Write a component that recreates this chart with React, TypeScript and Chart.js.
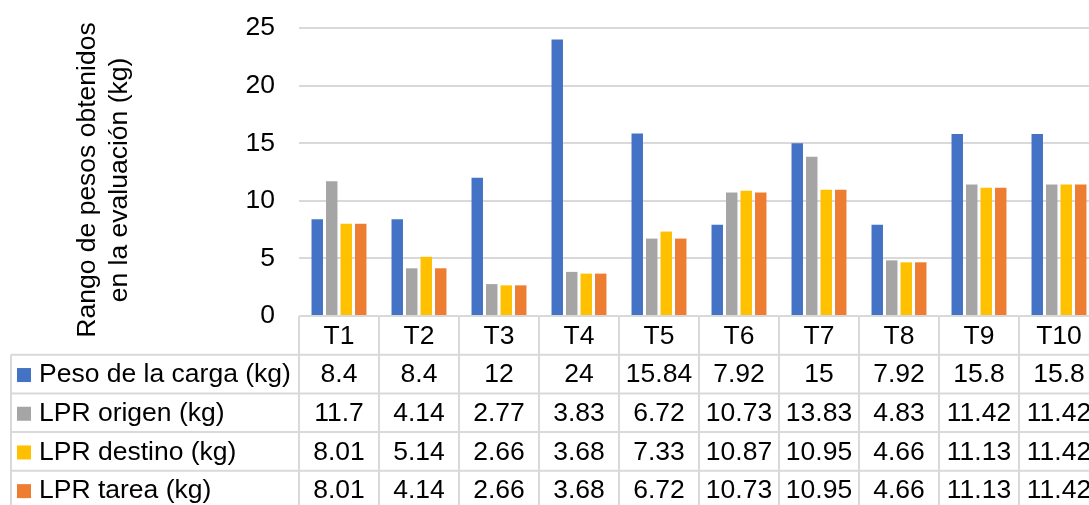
import React, { useEffect, useRef } from "react";
import { Chart, registerables } from "chart.js";

Chart.register(...registerables);

const categories = ["T1", "T2", "T3", "T4", "T5", "T6", "T7", "T8", "T9", "T10"];
const pesoCarga = [8.4, 8.4, 12, 24, 15.84, 7.92, 15, 7.92, 15.8, 15.8];
const lprOrigen = [11.7, 4.14, 2.77, 3.83, 6.72, 10.73, 13.83, 4.83, 11.42, 11.42];
const lprDestino = [8.01, 5.14, 2.66, 3.68, 7.33, 10.87, 10.95, 4.66, 11.13, 11.42];
const lprTarea = [8.01, 4.14, 2.66, 3.68, 6.72, 10.73, 10.95, 4.66, 11.13, 11.42];
const seriesLabels = ["Peso de la carga (kg)", "LPR origen (kg)", "LPR destino (kg)", "LPR tarea (kg)"];
const seriesColors = ["#4472C4", "#A5A5A5", "#FFC000", "#ED7D31"];
const yTitle = ["Rango de pesos obtenidos", "en la evaluación (kg)"];

const FONT = '"Liberation Sans", Arial, sans-serif';
const FS = 26.5;
const GRID = "#d9d9d9";

const tablePlugin = {
  id: "dataTable",
  afterDraw(chart: any) {
    const ctx = chart.ctx;
    const x = chart.scales.x;
    const area = chart.chartArea;
    const top = area.bottom;
    const rowH = 38.7;
    const colW = x.getPixelForValue(1) - x.getPixelForValue(0);
    const left0 = x.getPixelForValue(0) - colW / 2;
    const tableLeft = 11;
    const nRows = 5;
    const bottom = top + rowH * nRows;
    const rightEdge = left0 + colW * categories.length;
    ctx.save();
    ctx.strokeStyle = GRID;
    ctx.lineWidth = 2;
    ctx.beginPath();
    ctx.moveTo(left0, top);
    ctx.lineTo(rightEdge, top);
    for (let k = 1; k <= nRows; k++) {
      ctx.moveTo(tableLeft, top + rowH * k);
      ctx.lineTo(rightEdge, top + rowH * k);
    }
    for (let i = 0; i <= categories.length; i++) {
      ctx.moveTo(left0 + colW * i, top);
      ctx.lineTo(left0 + colW * i, bottom);
    }
    ctx.moveTo(tableLeft, top + rowH);
    ctx.lineTo(tableLeft, bottom);
    ctx.stroke();

    ctx.fillStyle = "#000";
    ctx.font = `${FS}px ${FONT}`;
    ctx.textBaseline = "middle";
    ctx.textAlign = "center";
    categories.forEach((c, i) => {
      ctx.fillText(c, x.getPixelForValue(i), top + rowH / 2 + 1);
    });
    chart.data.datasets.forEach((ds: any, r: number) => {
      const cy = top + rowH * (r + 1) + rowH / 2 + 1;
      ctx.fillStyle = ds.backgroundColor;
      ctx.fillRect(17, cy - 7, 14, 14);
      ctx.fillStyle = "#000";
      ctx.textAlign = "left";
      ctx.fillText(ds.label, 39, cy);
      ctx.textAlign = "center";
      ds.data.forEach((v: number, i: number) => {
        ctx.fillText(String(v), x.getPixelForValue(i), cy);
      });
    });

    // y axis title
    ctx.save();
    ctx.translate(0, 180);
    ctx.rotate(-Math.PI / 2);
    ctx.textAlign = "center";
    ctx.fillText(yTitle[0], 0, 88);
    ctx.fillText(yTitle[1], 0, 120);
    ctx.restore();
    ctx.restore();
  },
};

export default function App() {
  const ref = useRef<HTMLCanvasElement | null>(null);
  useEffect(() => {
    if (!ref.current) return;
    const data = [pesoCarga, lprOrigen, lprDestino, lprTarea];
    const chart = new Chart(ref.current, {
      type: "bar",
      data: {
        labels: categories,
        datasets: data.map((d, i) => ({
          label: seriesLabels[i],
          data: d,
          backgroundColor: seriesColors[i],
          categoryPercentage: 0.725,
          barPercentage: 0.79,
        })),
      },
      options: {
        animation: false,
        responsive: false,
        layout: { padding: { left: 0, top: 28, right: 2, bottom: 189 } },
        plugins: { legend: { display: false }, tooltip: { enabled: false } },
        scales: {
          x: { display: false },
          y: {
            min: 0,
            max: 25,
            ticks: { stepSize: 5, color: "#000", font: { size: FS, family: FONT }, padding: 24 },
            grid: { color: GRID, lineWidth: 2, drawTicks: false },
            border: { display: false },
            afterFit: (s: any) => {
              s.width = 299;
              s.paddingTop = 0;
              s.paddingBottom = 0;
            },
          },
        },
      },
      plugins: [tablePlugin],
    });
    return () => chart.destroy();
  }, []);
  return (
    <div style={{ position: "fixed", left: 0, top: 0, width: 1089, height: 505, overflow: "hidden", background: "#fff" }}>
      <canvas ref={ref} width={1101} height={505} style={{ display: "block" }} />
    </div>
  );
}
